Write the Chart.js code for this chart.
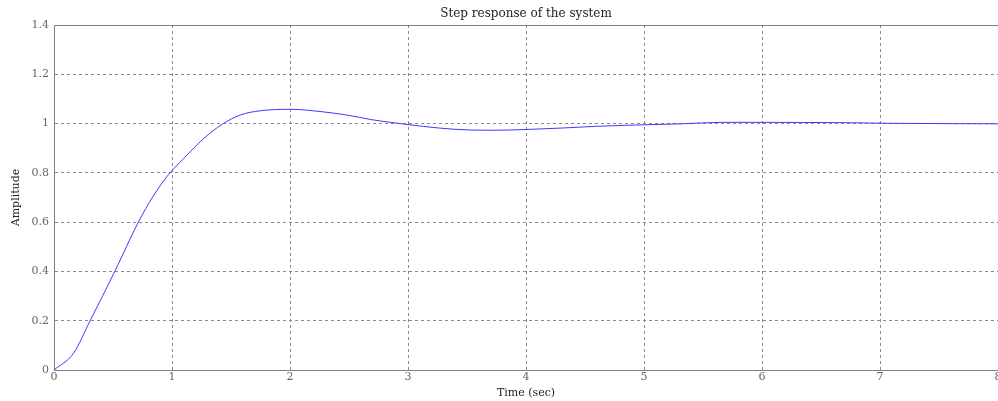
<!DOCTYPE html>
<html>
<head>
<meta charset="utf-8">
<script src="https://cdn.jsdelivr.net/npm/chart.js@4/dist/chart.umd.min.js"></script>
<style>
html,body{margin:0;padding:0;background:#fff;}
#wrap{width:998px;height:401px;}
</style>
</head>
<body>
<div id="wrap"><canvas id="c" width="998" height="401"></canvas></div>
<script>
const chartTitle = "Step response of the system";
const xTitle = "Time (sec)";
const yTitle = "Amplitude";
const time = [0, 0.164, 0.306, 0.515, 0.715, 0.84, 0.971, 1.10, 1.27, 1.425, 1.58, 1.75, 2.00, 2.29, 2.49, 2.69, 2.85, 3.00, 3.26, 3.52, 3.75, 4.00, 4.31, 4.60, 4.85, 5.00, 5.32, 5.66, 6.00, 6.63, 7.10, 8.00];
const amplitude = [0, 0.067, 0.20, 0.40, 0.60, 0.705, 0.793, 0.859, 0.940, 0.997, 1.035, 1.052, 1.058, 1.047, 1.034, 1.016, 1.005, 0.996, 0.982, 0.974, 0.973, 0.976, 0.982, 0.989, 0.993, 0.995, 0.999, 1.005, 1.005, 1.004, 1.001, 0.999];
const xTicks = [0,1,2,3,4,5,6,7,8];
const yTicks = [0,0.2,0.4,0.6,0.8,1,1.2,1.4];

const points = time.map((t,i)=>({x:t, y:amplitude[i]}));

const frame = {
  id:'frame',
  afterDraw(chart){
    const a = chart.chartArea, ctx = chart.ctx;
    ctx.save();
    ctx.strokeStyle = '#808080';
    ctx.lineWidth = 1;
    ctx.beginPath();
    ctx.moveTo(a.left+0.5, a.top+0.5);
    ctx.lineTo(a.right+0.5, a.top+0.5);
    ctx.lineTo(a.right+0.5, a.bottom);
    ctx.stroke();
    ctx.restore();
  }
};

const serif = "'DejaVu Serif', 'Liberation Serif', serif";

new Chart(document.getElementById('c'), {
  type:'scatter',
  data:{datasets:[{
    data:points,
    showLine:true,
    borderColor:'#3a3aff',
    borderWidth:1,
    pointRadius:0,
    cubicInterpolationMode:'monotone',
    fill:false
  }]},
  options:{
    responsive:false,
    animation:false,
    layout:{padding:0},
    plugins:{
      legend:{display:false},
      tooltip:{enabled:false},
      title:{display:true, fullSize:false, text:chartTitle, color:'#222', font:{family:serif, size:12, weight:'normal'}, padding:{top:7,bottom:3.6}}
    },
    scales:{
      x:{
        type:'linear', min:0, max:8,
        afterBuildTicks(s){ s.ticks = xTicks.map(v=>({value:v})); },
        afterFit(s){ s.height = 31; s.paddingLeft = 0; s.paddingRight = 0; },
        grid:{color:'#8a8a8a', drawTicks:false, lineWidth:1},
        border:{display:true, color:'#808080', dash:[3,3]},
        ticks:{color:'#666', padding:1, maxRotation:0, font:{family:serif, size:11}, callback:v=>String(v)},
        title:{display:true, text:xTitle, color:'#222', font:{family:serif, size:11}, padding:{top:0,bottom:1}}
      },
      y:{
        type:'linear', min:0, max:1.4,
        afterBuildTicks(s){ s.ticks = yTicks.map(v=>({value:v})); },
        afterFit(s){ s.width = 54; s.paddingTop = 0; s.paddingBottom = 0; },
        grid:{color:'#8a8a8a', drawTicks:false, lineWidth:1},
        border:{display:true, color:'#808080', dash:[3,3]},
        ticks:{color:'#666', padding:5, font:{family:serif, size:11}, callback:v=>String(Math.round(v*10)/10)},
        title:{display:true, text:yTitle, color:'#222', font:{family:serif, size:11}, padding:{top:10,bottom:0}}
      }
    }
  },
  plugins:[frame]
});
</script>
</body>
</html>
